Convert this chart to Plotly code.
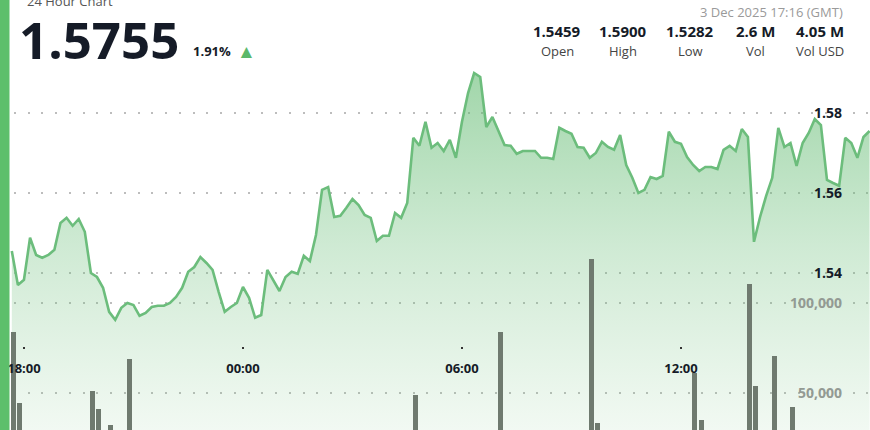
import pandas as pd
import plotly.graph_objects as go

# 10-minute closes, 2 Dec 2025 17:40 -> 3 Dec 2025 17:10 (GMT)
start_time = "2025-12-02 17:40"
price = [
    1.5455, 1.5370, 1.5383, 1.5488, 1.5445, 1.5438, 1.5445, 1.5458, 1.5525, 1.5538,
    1.5518, 1.5535, 1.5503, 1.5400, 1.5390, 1.5363, 1.5303, 1.5283, 1.5313, 1.5325,
    1.5320, 1.5293, 1.5300, 1.5315, 1.5318, 1.5318, 1.5325, 1.5340, 1.5363, 1.5403,
    1.5415, 1.5440, 1.5425, 1.5408, 1.5353, 1.5303, 1.5315, 1.5325, 1.5365, 1.5338,
    1.5288, 1.5295, 1.5408, 1.5383, 1.5355, 1.5390, 1.5403, 1.5398, 1.5443, 1.5430,
    1.5495, 1.5608, 1.5615, 1.5540, 1.5543, 1.5563, 1.5585, 1.5570, 1.5545, 1.5538,
    1.5480, 1.5493, 1.5493, 1.5550, 1.5538, 1.5575, 1.5738, 1.5718, 1.5778, 1.5713,
    1.5725, 1.5705, 1.5733, 1.5688, 1.5778, 1.5850, 1.5900, 1.5890, 1.5765, 1.5790,
    1.5753, 1.5720, 1.5718, 1.5698, 1.5705, 1.5705, 1.5705, 1.5688, 1.5688, 1.5685,
    1.5763, 1.5755, 1.5748, 1.5715, 1.5713, 1.5688, 1.5700, 1.5728, 1.5715, 1.5708,
    1.5745, 1.5670, 1.5638, 1.5600, 1.5608, 1.5640, 1.5635, 1.5643, 1.5753, 1.5728,
    1.5723, 1.5690, 1.5670, 1.5655, 1.5665, 1.5665, 1.5660, 1.5708, 1.5718, 1.5705,
    1.5760, 1.5740, 1.5478, 1.5540, 1.5593, 1.5638, 1.5763, 1.5715, 1.5725, 1.5668,
    1.5725, 1.5750, 1.5785, 1.5770, 1.5633, 1.5625, 1.5618, 1.5738, 1.5725, 1.5688,
    1.5740, 1.5755,
]

vol_times = [
    "2025-12-02 17:40", "2025-12-02 17:50", "2025-12-02 19:50", "2025-12-02 20:00",
    "2025-12-02 20:20", "2025-12-02 20:50", "2025-12-03 04:40", "2025-12-03 07:00",
    "2025-12-03 09:30", "2025-12-03 09:40", "2025-12-03 12:20", "2025-12-03 12:30",
    "2025-12-03 13:50", "2025-12-03 14:00", "2025-12-03 14:30", "2025-12-03 15:00",
]
volume = [
    83900, 44400, 51100, 41100, 32200, 68900, 48900, 83900,
    124400, 33300, 61100, 35000, 110600, 53900, 70600, 42200,
]

price_ticks = [1.54, 1.56, 1.58]
volume_ticks = [50000, 100000]

stat_values = ["1.5459", "1.5900", "1.5282", "2.6 M", "4.05 M"]
stat_labels = ["Open", "High", "Low", "Vol", "Vol USD"]

times = pd.date_range(start_time, periods=len(price), freq="10min")

W, H = 870, 430
FONT = "Open Sans"
DARK = "#151b27"


def px(x):
    return x / W


def py(y):
    return 1 - y / H


fig = go.Figure()

fig.add_trace(go.Scatter(
    x=times, y=price, mode="lines",
    line=dict(color="#6cbd7c", width=2.6),
    fill="tozeroy",
    fillgradient=dict(
        type="vertical", start=1.5008, stop=1.592,
        colorscale=[[0, "rgba(120,195,130,0.10)"], [0.5, "rgba(105,190,120,0.32)"],
                    [1, "rgba(95,185,110,0.60)"]],
    ),
    hoverinfo="skip", showlegend=False,
))

bar_w = 5 * 60 * 1000 * 10 / 6.1
fig.add_trace(go.Bar(
    x=vol_times, y=volume, yaxis="y2",
    width=bar_w, offset=-bar_w / 2 + 3 * 60 * 1000,
    marker=dict(color="#6f7a6f", line_width=0),
    hoverinfo="skip", showlegend=False,
))

dot = "2px,11.75px"
fig.update_layout(
    width=W, height=H,
    margin=dict(l=0, r=0, t=0, b=0, autoexpand=False),
    paper_bgcolor="white", plot_bgcolor="white",
    font=dict(family=FONT, color=DARK),
    bargap=0,
    xaxis=dict(
        range=["2025-12-02 17:20:36", "2025-12-03 17:10:43"],
        type="date",
        tick0="2025-12-02 18:00", dtick=6 * 3600 * 1000,
        tickformat="%H:%M",
        showgrid=False, zeroline=False, showline=False,
        anchor="free", position=py(346),
        ticks="outside", ticklen=2, tickwidth=2, tickcolor="#333",
        ticklabelstandoff=8,
        tickfont=dict(size=13, color=DARK, weight="bold"),
    ),
    yaxis=dict(
        range=[1.50075, 1.60825],
        tickvals=price_ticks, tickformat=".2f",
        side="right", anchor="free", position=px(845),
        ticklabelposition="inside",
        showgrid=True, gridcolor="#bdbdbd", gridwidth=1.5, griddash=dot,
        zeroline=False, showline=False,
        tickfont=dict(size=14, color=DARK, weight="bold"),
    ),
    yaxis2=dict(
        range=[29444, 268333],
        overlaying="y",
        tickvals=volume_ticks, tickformat=",d",
        side="right", anchor="free", position=px(845),
        ticklabelposition="inside",
        showgrid=True, gridcolor="#bdbdbd", gridwidth=1.5, griddash=dot,
        zeroline=False, showline=False,
        tickfont=dict(size=14, color="#939a93", weight="bold"),
    ),
)

# green accent bar on the left edge
fig.add_shape(type="rect", xref="paper", yref="paper",
              x0=0, x1=px(9.5), y0=0, y1=1,
              fillcolor="#5dbf6b", line_width=0, layer="above")

ann = []
ann.append(dict(text="24 Hour Chart", x=px(25), y=py(1), xanchor="left", yanchor="middle",
                font=dict(size=13, color="#555")))
ann.append(dict(text="1.5755", x=px(17), y=py(39), xanchor="left", yanchor="middle",
                font=dict(size=51, color=DARK, weight="bold")))
ann.append(dict(text="1.91%", x=px(191), y=py(51), xanchor="left", yanchor="middle",
                font=dict(size=13, color=DARK, weight="bold")))
ann.append(dict(text="▲", x=px(235), y=py(51), xanchor="left", yanchor="middle",
                font=dict(size=19, color="#5cb86a")))
ann.append(dict(text="3 Dec 2025 17:16 (GMT)", x=px(845), y=py(12), xanchor="right",
                yanchor="middle", font=dict(size=13, color="#9a9a9a")))
centers = [557, 623, 690, 755, 820]
for cx, v, lab in zip(centers, stat_values, stat_labels):
    ann.append(dict(text=v, x=px(cx), y=py(31), xanchor="center", yanchor="middle",
                    font=dict(size=15, color=DARK, weight="bold")))
    ann.append(dict(text=lab, x=px(cx), y=py(51), xanchor="center", yanchor="middle",
                    font=dict(size=13, color="#444")))
for a in ann:
    a.update(xref="paper", yref="paper", showarrow=False)
fig.update_layout(annotations=ann)

# page body has a default 8px margin; drop it so the figure sits flush
fig.write_html("out.html", config={"displayModeBar": False},
               post_script="document.body.style.margin='0';")
